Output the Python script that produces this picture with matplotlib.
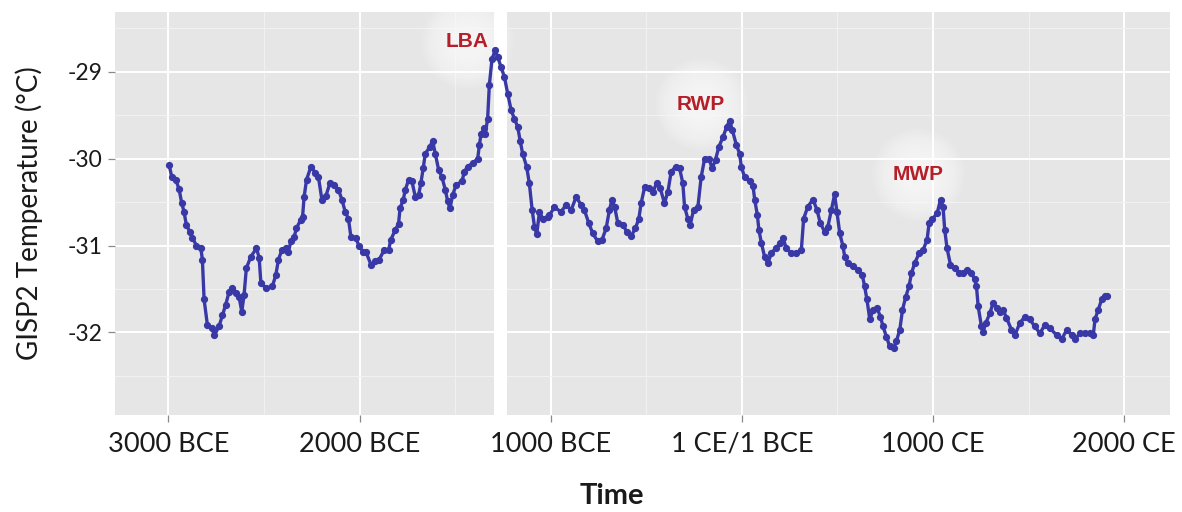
import matplotlib
matplotlib.use("Agg")
import matplotlib.pyplot as plt
from matplotlib.ticker import FixedLocator

# GISP2 temperature reconstruction, year (negative = BCE) and temperature (°C)
years = [
    -2996, -2982, -2961, -2944, -2930, -2918, -2906, -2888, -2874, -2853,
    -2830, -2822, -2813, -2796, -2773, -2759, -2735, -2717, -2700, -2682,
    -2665, -2644, -2630, -2616, -2604, -2592, -2569, -2539, -2525, -2516,
    -2490, -2456, -2438, -2424, -2406, -2385, -2372, -2359, -2342, -2330,
    -2307, -2298, -2290, -2277, -2254, -2232, -2215, -2197, -2176, -2155,
    -2132, -2110, -2092, -2075, -2058, -2045, -2019, -2002, -1981, -1967,
    -1940, -1918, -1897, -1871, -1848, -1836, -1813, -1796, -1788, -1771,
    -1761, -1743, -1726, -1708, -1691, -1679, -1667, -1656, -1631, -1618,
    -1604, -1586, -1569, -1551, -1539, -1527, -1513, -1495, -1464, -1452,
    -1435, -1408, -1382, -1373, -1364, -1347, -1342, -1330, -1321, -1307,
    -1290, -1277, -1260, -1242, -1225, -1207, -1190, -1173, -1160, -1147,
    -1126, -1112, -1097, -1085, -1073, -1059, -1042, -1016, -1007, -981,
    -946, -919, -893, -867, -841, -824, -801, -780, -754, -731,
    -710, -693, -679, -666, -649, -623, -602, -579, -557, -539,
    -527, -509, -487, -466, -445, -427, -405, -387, -370, -347,
    -326, -309, -300, -283, -270, -253, -230, -213, -195, -173,
    -155, -138, -120, -99, -79, -64, -50, -29, -12, -3,
    14, 40, 58, 67, 81, 89, 102, 119, 136, 154,
    176, 201, 215, 232, 259, 285, 311, 323, 345, 372,
    393, 410, 433, 450, 468, 485, 497, 512, 529, 538,
    555, 581, 607, 630, 642, 654, 669, 686, 707, 725,
    738, 756, 773, 794, 808, 826, 840, 857, 874, 887,
    904, 927, 948, 969, 979, 997, 1021, 1039, 1052, 1061,
    1073, 1091, 1114, 1136, 1154, 1175, 1201, 1218, 1227, 1236,
    1253, 1262, 1276, 1297, 1314, 1332, 1349, 1366, 1384, 1410,
    1428, 1454, 1480, 1506, 1532, 1559, 1585, 1611, 1646, 1672,
    1699, 1725, 1742, 1768, 1794, 1820, 1838, 1847, 1864, 1882,
    1899, 1908,
]
temps = [
    -30.07, -30.21, -30.24, -30.35, -30.51, -30.61, -30.76, -30.84, -30.91, -31.00,
    -31.03, -31.16, -31.62, -31.91, -31.95, -32.03, -31.93, -31.80, -31.68, -31.53,
    -31.49, -31.54, -31.59, -31.76, -31.57, -31.26, -31.13, -31.03, -31.14, -31.43,
    -31.49, -31.47, -31.34, -31.16, -31.05, -31.03, -31.07, -30.95, -30.90, -30.80,
    -30.70, -30.67, -30.44, -30.24, -30.09, -30.16, -30.21, -30.47, -30.43, -30.28,
    -30.30, -30.36, -30.47, -30.61, -30.69, -30.90, -30.91, -31.01, -31.07, -31.07,
    -31.22, -31.18, -31.16, -31.05, -31.05, -30.93, -30.82, -30.75, -30.57, -30.47,
    -30.36, -30.24, -30.26, -30.44, -30.42, -30.28, -30.11, -29.94, -29.86, -29.79,
    -29.94, -30.13, -30.21, -30.36, -30.49, -30.57, -30.42, -30.30, -30.26, -30.15,
    -30.09, -30.05, -30.00, -29.84, -29.71, -29.65, -29.71, -29.54, -29.15, -28.85,
    -28.75, -28.83, -28.94, -29.06, -29.25, -29.44, -29.54, -29.63, -29.79, -29.94,
    -30.09, -30.28, -30.59, -30.78, -30.87, -30.61, -30.69, -30.67, -30.65, -30.56,
    -30.61, -30.53, -30.59, -30.44, -30.53, -30.59, -30.74, -30.86, -30.95, -30.93,
    -30.80, -30.59, -30.47, -30.55, -30.74, -30.76, -30.84, -30.89, -30.80, -30.69,
    -30.51, -30.33, -30.34, -30.38, -30.28, -30.34, -30.51, -30.38, -30.15, -30.09,
    -30.11, -30.28, -30.55, -30.69, -30.76, -30.59, -30.55, -30.21, -30.00, -30.00,
    -30.11, -30.01, -29.86, -29.75, -29.63, -29.56, -29.67, -29.84, -29.94, -30.09,
    -30.21, -30.26, -30.31, -30.47, -30.65, -30.82, -30.97, -31.13, -31.20, -31.09,
    -31.03, -30.97, -30.91, -31.03, -31.09, -31.09, -31.05, -30.69, -30.55, -30.47,
    -30.59, -30.74, -30.84, -30.78, -30.59, -30.41, -30.61, -30.86, -31.01, -31.13,
    -31.20, -31.24, -31.28, -31.34, -31.47, -31.62, -31.85, -31.74, -31.72, -31.82,
    -31.93, -32.05, -32.16, -32.18, -32.10, -31.97, -31.74, -31.59, -31.47, -31.32,
    -31.20, -31.09, -31.05, -30.93, -30.74, -30.69, -30.63, -30.47, -30.55, -30.82,
    -31.03, -31.22, -31.26, -31.32, -31.32, -31.28, -31.32, -31.39, -31.47, -31.70,
    -31.93, -31.99, -31.89, -31.78, -31.66, -31.72, -31.76, -31.74, -31.83, -31.97,
    -32.03, -31.89, -31.82, -31.85, -31.93, -32.01, -31.91, -31.95, -32.03, -32.08,
    -31.97, -32.03, -32.08, -32.01, -32.01, -32.01, -32.03, -31.85, -31.74, -31.62,
    -31.58, -31.58,
]

# Axis ticks
x_ticks = [-3000, -2000, -1000, 0, 1000, 2000]
x_tick_labels = ["3000 BCE", "2000 BCE", "1000 BCE", "1 CE/1 BCE", "1000 CE", "2000 CE"]
x_minor = [-2500, -1500, -500, 500, 1500]
y_ticks = [-32, -31, -30, -29]
y_minor = [-32.5, -31.5, -30.5, -29.5, -28.5]

# Named warm periods
period_names = ["LBA", "RWP", "MWP"]
period_x = [-1436, -216, 920]
period_y = [-28.65, -29.37, -30.18]

# Break in the record
gap_start, gap_end = -1295, -1227

plt.rcParams["font.family"] = ["Lato", "DejaVu Sans"]

fig = plt.figure(figsize=(11.82, 5.12), dpi=100)
ax = fig.add_axes([0.0973, 0.1895, 0.8925, 0.7871])
ax.set_facecolor("#E6E6E6")

ax.set_xlim(-3279, 2239)
ax.set_ylim(-32.95, -28.31)

ax.xaxis.set_major_locator(FixedLocator(x_ticks))
ax.xaxis.set_minor_locator(FixedLocator(x_minor))
ax.yaxis.set_major_locator(FixedLocator(y_ticks))
ax.yaxis.set_minor_locator(FixedLocator(y_minor))
ax.set_xticklabels(x_tick_labels)
ax.set_yticklabels([str(v) for v in y_ticks])

ax.grid(which="major", color="white", linewidth=1.4, zorder=0)
ax.grid(which="minor", color="#F2F2F2", linewidth=0.7, zorder=0)
ax.set_axisbelow(True)
for s in ax.spines.values():
    s.set_visible(False)

ax.tick_params(axis="both", which="major", length=5, width=0.9, color="#8a8a8a")
ax.tick_params(axis="both", which="minor", length=0)
ax.tick_params(axis="x", labelsize=19.5, pad=7, labelcolor="#1a1a1a")
ax.tick_params(axis="y", labelsize=16.5, pad=4, labelcolor="#1a1a1a")

ax.axvspan(gap_start, gap_end, color="white", lw=0, zorder=1)

ax.plot(years, temps, color="#3838a6", lw=2.4, marker="o", ms=4.2,
        mec="#3838a6", mfc="#3838a6", zorder=3)

# Soft white halo behind each warm-period label, built from stacked translucent discs
halo_sizes = [4400, 3900, 3400, 2900, 2450, 2000, 1600, 1250, 900, 600]
for name, px, py in zip(period_names, period_x, period_y):
    for size in halo_sizes:
        ax.scatter([px], [py], s=size, color="white", alpha=0.11, lw=0, zorder=2)
    ax.text(px, py, name, color="#b51f29", fontsize=15, fontweight="bold",
            family=["Liberation Sans", "DejaVu Sans"],
            ha="center", va="center", zorder=4)

ax.set_xlabel("Time", fontsize=21, fontweight="bold", color="#1a1a1a")
ax.xaxis.set_label_coords(0.471, -0.17)
ax.set_ylabel("GISP2 Temperature (°C)", fontsize=20, color="#1a1a1a")
ax.yaxis.set_label_coords(-0.068, 0.5)

fig.savefig("out.png", dpi=100)
